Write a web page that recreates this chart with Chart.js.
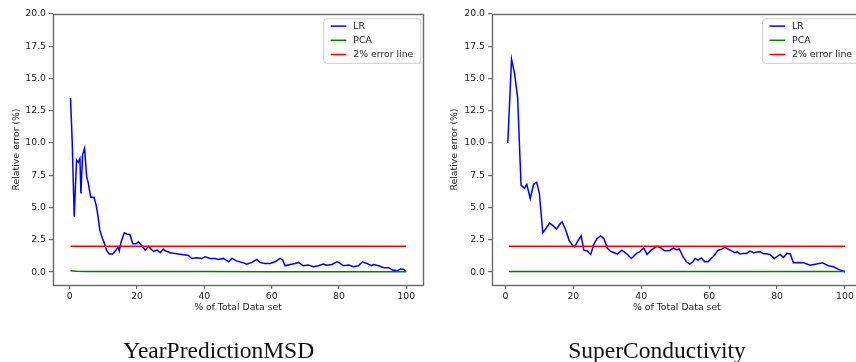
<!DOCTYPE html>
<html>
<head>
<meta charset="utf-8">
<script src="https://cdn.jsdelivr.net/npm/chart.js@4"></script>
<style>
  html, body { margin: 0; padding: 0; background: #fff; overflow: hidden; }
  #wrap { position: relative; width: 856px; height: 362px; overflow: hidden; }
  canvas { position: absolute; top: 0; }
</style>
</head>
<body>
<div id="wrap">
  <canvas id="left" width="430" height="362" style="left:0"></canvas>
  <canvas id="right" width="440" height="362" style="left:430px"></canvas>
</div>
<script>
// ---- data ----
var xTicks = [0, 20, 40, 60, 80, 100];
var yTicks = [0, 2.5, 5, 7.5, 10, 12.5, 15, 17.5, 20];
var panelTitles = ['YearPredictionMSD', 'SuperConductivity'];
var seriesNames = ['LR', 'PCA', '2% error line'];

// YearPredictionMSD
var msdLrX = [0.2, 0.7, 1.3, 2, 2.5, 3, 3.3, 3.8, 4.4, 5, 5.5, 6.2, 7.2, 7.9, 8.4, 8.9, 9.7, 10.2, 10.9, 11.7,
  12.7, 13.7, 14.4, 14.7, 15.2, 16.2, 16.9, 17.9, 18.7, 19.7, 20.4, 21.4, 22.4, 23.4, 24.1, 24.9, 25.9, 26.9, 27.8, 28.4,
  29.8, 31.8, 33.8, 35.3, 36.2, 37.7, 39.2, 40.2, 41.7, 43.2, 44.2, 45.7, 47.2, 48.2, 49.7, 51.2, 52.6, 54.1, 55.6, 56.5,
  58, 59.5, 61, 62.5, 63.3, 64, 65.5, 67, 68, 69.4, 70.9, 72.4, 73.9, 75.4, 76.4, 77.9, 79.4, 79.9, 81.4, 82.9,
  84.4, 85.8, 87, 88.3, 89.6, 90.3, 91.8, 93.3, 94.8, 96, 97.3, 98.3, 99.3, 100];
var msdLrY = [13.5, 10.2, 4.3, 8.7, 8.5, 8.8, 6.1, 9.1, 9.6, 7.4, 6.9, 5.8, 5.8, 5.1, 4.3, 3.26, 2.6, 2.3, 1.7, 1.4,
  1.4, 1.7, 1.95, 1.65, 2.3, 3.05, 2.95, 2.9, 2.2, 2.2, 2.35, 2.05, 1.7, 2.0, 1.8, 1.6, 1.7, 1.5, 1.78, 1.65,
  1.5, 1.42, 1.34, 1.29, 1.06, 1.11, 1.06, 1.19, 1.06, 1.06, 0.98, 1.06, 0.8, 1.06, 0.85, 0.75, 0.62, 0.75, 0.98, 0.75,
  0.67, 0.67, 0.8, 1.06, 0.93, 0.49, 0.59, 0.67, 0.75, 0.49, 0.54, 0.41, 0.49, 0.62, 0.54, 0.59, 0.8, 0.75, 0.49, 0.54,
  0.41, 0.49, 0.8, 0.67, 0.49, 0.59, 0.49, 0.34, 0.34, 0.16, 0.1, 0.23, 0.2, 0.03];
var msdPcaX = [0.2, 2, 5, 10, 20, 40, 60, 80, 100];
var msdPcaY = [0.1, 0.06, 0.05, 0.05, 0.04, 0.04, 0.03, 0.03, 0.03];
var msdErrX = [0.2, 100];
var msdErrY = [2, 2];

// SuperConductivity
var scLrX = [0.7, 1.8, 2.7, 3.6, 4.6, 5.6, 6.3, 7.3, 8.3, 9.2, 10, 11, 12, 13, 14, 15, 16, 16.7, 17.7, 18.7,
  19.7, 20.4, 21.4, 22.3, 23.1, 24, 25.1, 26.1, 27, 28, 29, 30, 31, 32, 33, 34.3, 35.8, 37.1, 38.6, 39.6,
  40.7, 41.7, 42.9, 44.6, 45.9, 46.9, 48.4, 49.4, 50.4, 51.2, 52.3, 53.3, 54.3, 55.2, 55.9, 56.7, 57.7, 58.7, 59.7, 60.6,
  61.6, 62.6, 63.6, 64.6, 65.6, 66.6, 67.6, 68.3, 69.1, 70, 71, 72, 73, 74, 75, 76, 76.9, 77.9, 79.2, 79.9,
  80.9, 81.9, 82.9, 83.9, 84.8, 86.3, 87.8, 89.7, 91.6, 93.4, 95.1, 96.6, 98.1, 100];
var scLrY = [10.0, 16.5, 15.4, 13.5, 6.74, 6.5, 6.8, 5.7, 6.8, 6.95, 6.1, 3.05, 3.4, 3.8, 3.6, 3.33, 3.7, 3.9, 3.3, 2.5,
  2.1, 1.95, 2.45, 2.8, 1.7, 1.65, 1.37, 2.2, 2.6, 2.8, 2.6, 1.84, 1.6, 1.5, 1.4, 1.7, 1.4, 1.06, 1.45, 1.58,
  1.89, 1.37, 1.7, 2.0, 1.86, 1.65, 1.68, 1.86, 1.73, 1.8, 1.19, 0.8, 0.62, 0.8, 1.06, 0.93, 1.1, 0.8, 0.8, 1.06,
  1.32, 1.7, 1.76, 1.91, 1.78, 1.65, 1.5, 1.58, 1.4, 1.45, 1.45, 1.63, 1.5, 1.55, 1.58, 1.42, 1.42, 1.37, 1.06, 1.19,
  1.37, 1.14, 1.45, 1.4, 0.72, 0.75, 0.72, 0.54, 0.62, 0.72, 0.49, 0.41, 0.21, 0.03];
var scPcaX = [1, 20, 40, 60, 80, 100];
var scPcaY = [0.05, 0.05, 0.05, 0.05, 0.05, 0.05];
var scErrX = [1, 100];
var scErrY = [2, 2];

var textFont = { family: 'DejaVu Sans', size: 9.3 };
var textColor = '#222';
var spineColor = '#6a6a6a';

function pts(xs, ys) {
  return xs.map(function (x, i) { return { x: x, y: ys[i] }; });
}

// axes frame, matplotlib-like legend, and panel caption
var decor = {
  id: 'decor',
  afterDraw: function (chart, args, opts) {
    var ctx = chart.ctx, a = chart.chartArea;
    ctx.save();
    ctx.strokeStyle = spineColor;
    ctx.lineWidth = 1.4;
    ctx.strokeRect(Math.round(a.left) + 0.5, Math.round(a.top) + 0.5,
      Math.round(a.right - a.left), Math.round(a.bottom - a.top));

    // legend box
    var w = 97, h = 44.5;
    var bx = a.right - 99.7, by = a.top + 4.3;
    ctx.beginPath();
    ctx.roundRect(bx + 0.5, by + 0.5, w, h, 3);
    ctx.fillStyle = 'rgba(255,255,255,0.8)';
    ctx.fill();
    ctx.strokeStyle = '#cccccc';
    ctx.lineWidth = 1;
    ctx.stroke();
    ctx.font = textFont.size + 'px ' + textFont.family;
    ctx.textBaseline = 'middle';
    ctx.textAlign = 'left';
    chart.data.datasets.forEach(function (ds, i) {
      var ry = by + 7.8 + i * 14.2;
      ctx.strokeStyle = ds.borderColor;
      ctx.lineWidth = 1.5;
      ctx.beginPath();
      ctx.moveTo(bx + 7.4, ry);
      ctx.lineTo(bx + 23, ry);
      ctx.stroke();
      ctx.fillStyle = textColor;
      ctx.fillText(ds.label, bx + 30, ry);
    });

    // caption under the panel
    ctx.font = '23.5px "Liberation Serif"';
    ctx.fillStyle = '#111';
    ctx.textAlign = 'center';
    ctx.textBaseline = 'alphabetic';
    ctx.fillText(opts.caption, opts.captionX, 357.5);
    ctx.restore();
  }
};

function makePanel(id, lr, pca, err, cfg) {
  return new Chart(document.getElementById(id), {
    type: 'line',
    data: {
      datasets: [
        { label: seriesNames[0], data: lr, borderColor: '#0000ff', order: 3 },
        { label: seriesNames[1], data: pca, borderColor: '#008000', order: 2 },
        { label: seriesNames[2], data: err, borderColor: '#ff0000', order: 1 }
      ]
    },
    options: {
      responsive: false,
      animation: false,
      events: [],
      elements: {
        line: { borderWidth: 1.5, tension: 0, fill: false },
        point: { radius: 0 }
      },
      layout: { padding: { left: 0, top: 14, right: cfg.padRight, bottom: 0 } },
      plugins: {
        legend: { display: false },
        tooltip: { enabled: false },
        decor: { caption: cfg.caption, captionX: cfg.captionX }
      },
      scales: {
        x: {
          type: 'linear',
          min: cfg.xMin,
          max: cfg.xMax,
          afterBuildTicks: function (s) { s.ticks = xTicks.map(function (v) { return { value: v }; }); },
          afterFit: function (s) { s.height = 77; },
          ticks: { font: textFont, color: textColor, padding: 2, maxRotation: 0 },
          grid: { drawOnChartArea: false, tickLength: 4, color: spineColor, lineWidth: 1.2 },
          border: { display: false },
          title: { display: true, text: '% of Total Data set', font: textFont, color: textColor,
                   padding: { top: 0, bottom: 48.4 } }
        },
        y: {
          min: -1,
          max: 20,
          afterBuildTicks: function (s) { s.ticks = yTicks.map(function (v) { return { value: v }; }); },
          afterFit: function (s) { s.width = cfg.yWidth; },
          ticks: { font: textFont, color: textColor, padding: 3,
                   callback: function (v) { return Number(v).toFixed(1); } },
          grid: { drawOnChartArea: false, tickLength: 4, color: spineColor, lineWidth: 1.2 },
          border: { display: false },
          title: { display: true, text: 'Relative error (%)', font: textFont, color: textColor,
                   padding: { top: cfg.yTitlePad, bottom: 0 } }
        }
      }
    },
    plugins: [decor]
  });
}

makePanel('left', pts(msdLrX, msdLrY), pts(msdPcaX, msdPcaY), pts(msdErrX, msdErrY), {
  xMin: -5, xMax: 105, yWidth: 53, padRight: 7, yTitlePad: 11.1,
  caption: panelTitles[0], captionX: 218.7
});
makePanel('right', pts(scLrX, scLrY), pts(scPcaX, scPcaY), pts(scErrX, scErrY), {
  xMin: -3.95, xMax: 104.95, yWidth: 62, padRight: 8.2, yTitlePad: 19.4,
  caption: panelTitles[1], captionX: 227
});
</script>
</body>
</html>
